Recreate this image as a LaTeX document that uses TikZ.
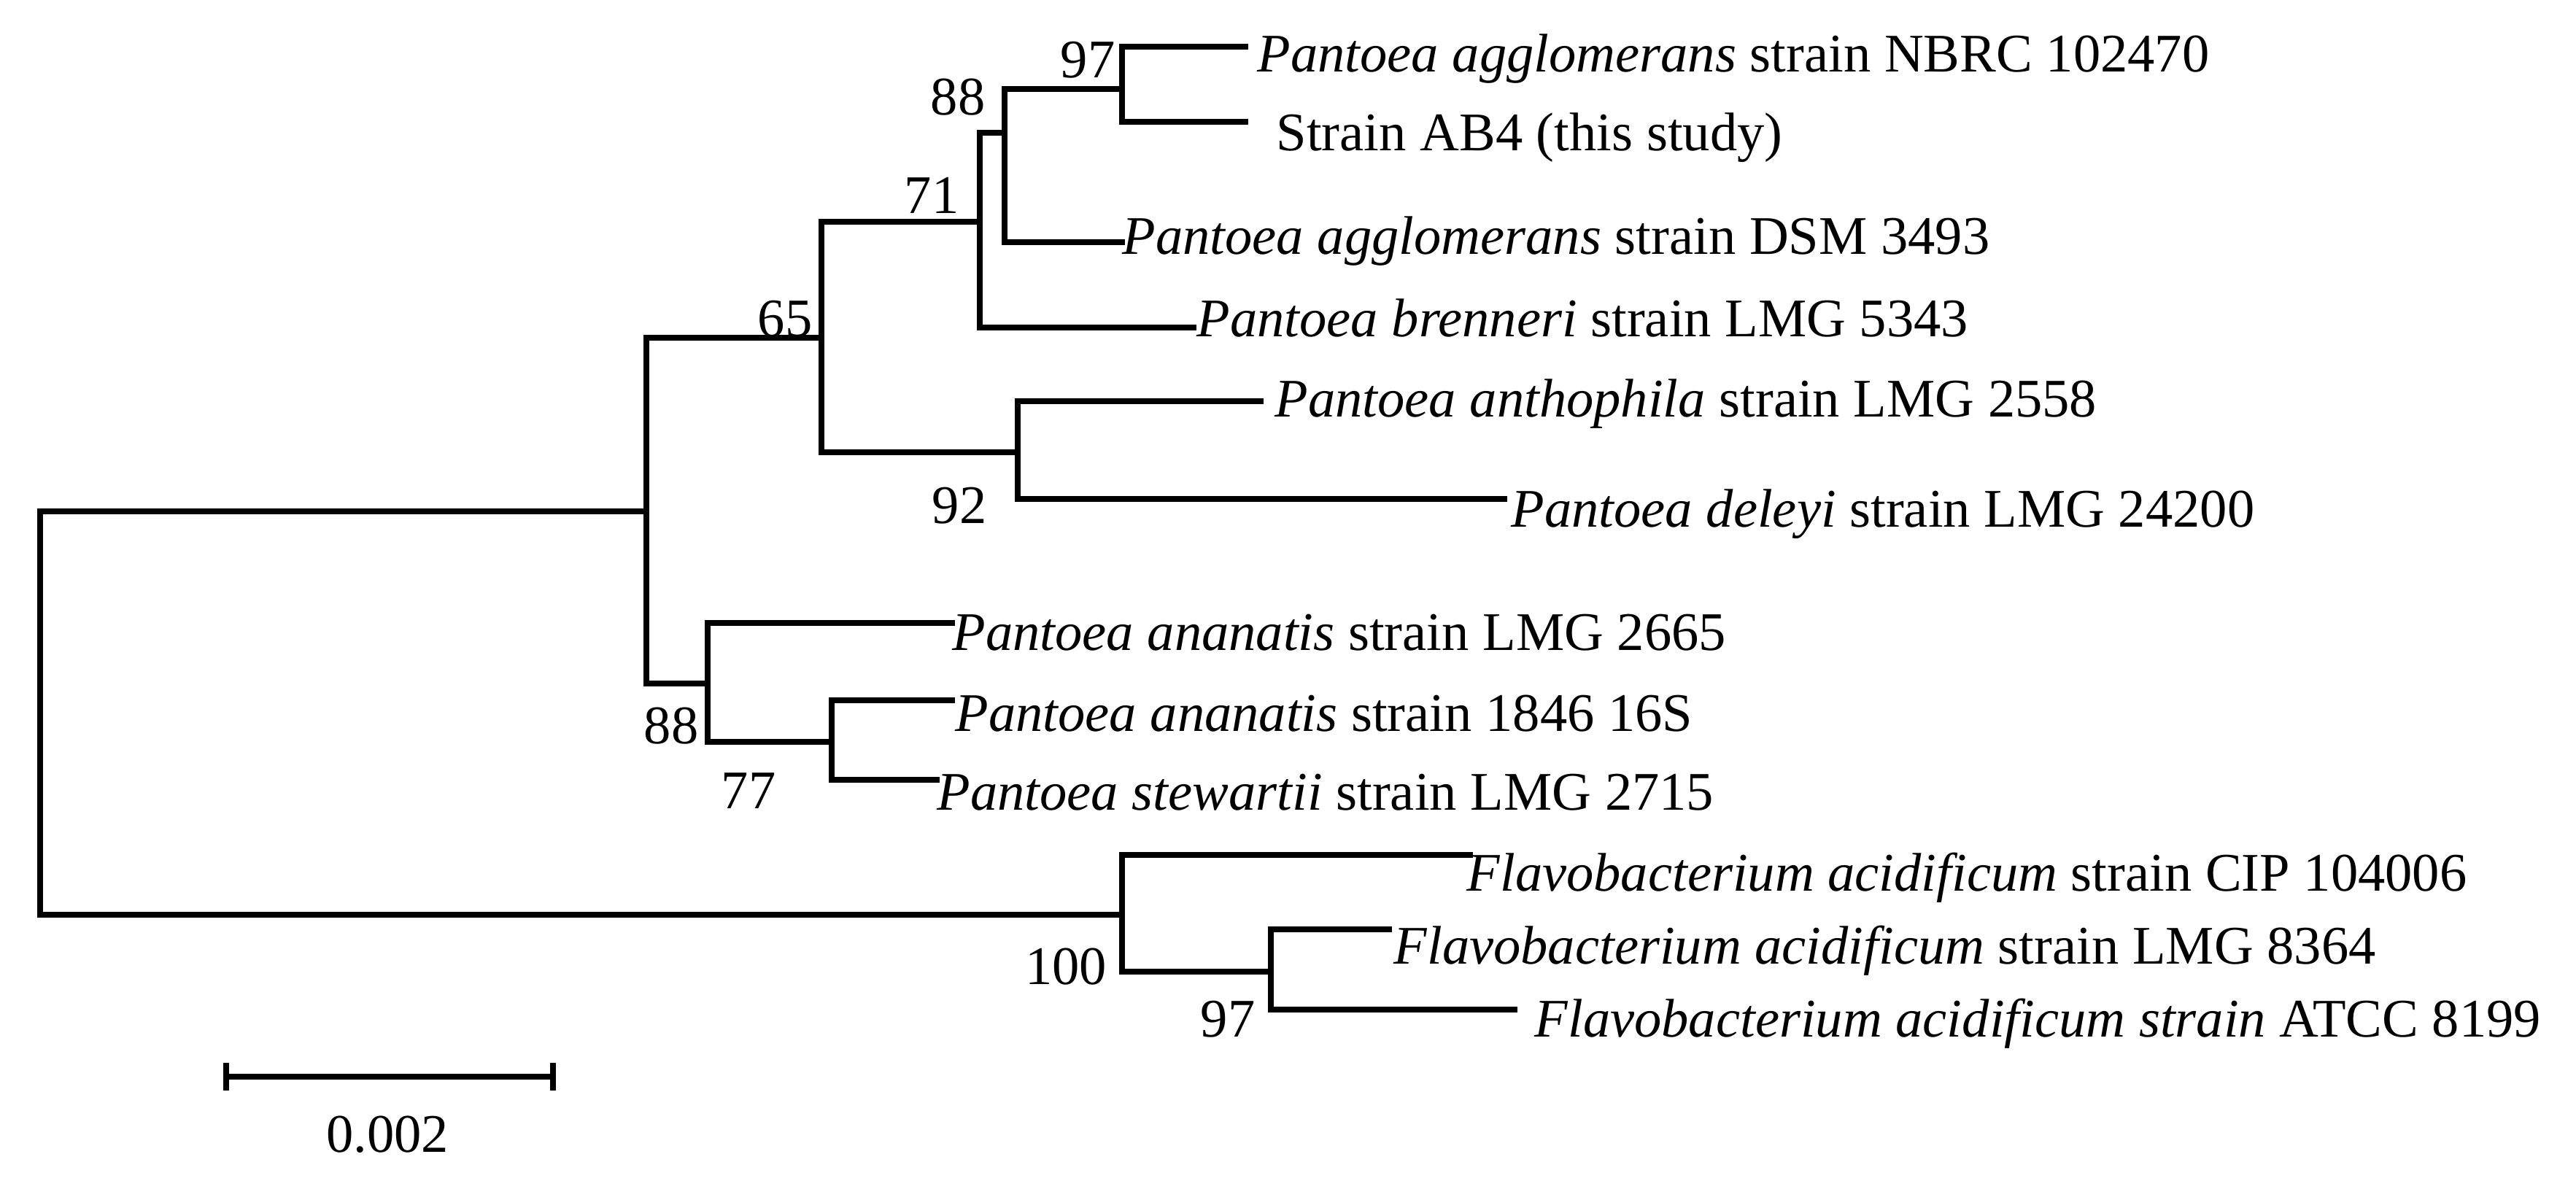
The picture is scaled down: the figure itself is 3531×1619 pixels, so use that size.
\documentclass[tikz,border=0pt]{standalone}
\usepackage{fontspec}
\setmainfont{Liberation Serif}
\begin{document}
\begin{tikzpicture}[x=0.01cm,y=-0.01cm,
  branch/.style={line width=2.4pt,line cap=rect},
  leaf/.style={anchor=base west,inner sep=0pt,font=\fontsize{21.2pt}{25pt}\selectfont},
  boot/.style={anchor=base,inner sep=0pt,font=\fontsize{21.2pt}{25pt}\selectfont}]
\useasboundingbox[fill=white] (0,0) rectangle (3531,1619);
% internal nodes
\coordinate (R) at (55,977);
\coordinate (A) at (886,701);
\coordinate (B) at (1126,463);
\coordinate (C) at (1343,304);
\coordinate (D) at (1377,182);
\coordinate (E) at (1538,122);
\coordinate (F) at (1395,620);
\coordinate (G) at (970,937);
\coordinate (H) at (1140,1017);
\coordinate (I) at (1538,1254);
\coordinate (J) at (1742,1332);
% leaf ends
\coordinate (lnbrc) at (1707,64);
\coordinate (lab4) at (1707,167);
\coordinate (ldsm) at (1538,332);
\coordinate (lbren) at (1636,449);
\coordinate (lanth) at (1728,550);
\coordinate (ldel) at (2062,684);
\coordinate (lana1) at (1305,854);
\coordinate (lana2) at (1305,960);
\coordinate (lste) at (1284,1069);
\coordinate (lcip) at (2015,1172);
\coordinate (l8364) at (1904,1274);
\coordinate (latcc) at (2076,1384);
% branches
\draw[branch] (R) |- (A);
\draw[branch] (R) |- (I);
\draw[branch] (A) |- (B);
\draw[branch] (A) |- (G);
\draw[branch] (B) |- (C);
\draw[branch] (B) |- (F);
\draw[branch] (C) |- (D);
\draw[branch] (C) |- (lbren);
\draw[branch] (D) |- (E);
\draw[branch] (D) |- (ldsm);
\draw[branch] (E) |- (lnbrc);
\draw[branch] (E) |- (lab4);
\draw[branch] (F) |- (lanth);
\draw[branch] (F) |- (ldel);
\draw[branch] (G) |- (lana1);
\draw[branch] (G) |- (H);
\draw[branch] (H) |- (lana2);
\draw[branch] (H) |- (lste);
\draw[branch] (I) |- (lcip);
\draw[branch] (I) |- (J);
\draw[branch] (J) |- (l8364);
\draw[branch] (J) |- (latcc);
% leaf labels
\node[leaf] (tnbrc) at (1723,99) {\textit{Pantoea agglomerans} strain NBRC 102470};
\node[leaf] (tab4) at (1749,207) {Strain AB4 (this study)};
\node[leaf] (tdsm) at (1538,349) {\textit{Pantoea agglomerans} strain DSM 3493};
\node[leaf] (tbren) at (1640,462) {\textit{Pantoea brenneri} strain LMG 5343};
\node[leaf] (tanth) at (1747,571) {\textit{Pantoea anthophila} strain LMG 2558};
\node[leaf] (tdel) at (2071,722) {\textit{Pantoea deleyi} strain LMG 24200};
\node[leaf] (tana1) at (1305,891) {\textit{Pantoea ananatis} strain LMG 2665};
\node[leaf] (tana2) at (1309,1002) {\textit{Pantoea ananatis} strain 1846 16S};
\node[leaf] (tste) at (1284,1110) {\textit{Pantoea stewartii} strain LMG 2715};
\node[leaf] (tcip) at (2010,1221) {\textit{Flavobacterium acidificum} strain CIP 104006};
\node[leaf] (t8364) at (1910,1321) {\textit{Flavobacterium acidificum} strain LMG 8364};
\node[leaf] (tatcc) at (2103,1421) {\textit{Flavobacterium acidificum strain} ATCC 8199};
% bootstrap values
\node[boot] (bE) at (1491,107) {97};
\node[boot] (bD) at (1313,158) {88};
\node[boot] (bC) at (1277,293) {71};
\node[boot] (bB) at (1076,462) {65};
\node[boot] (bF) at (1315,717) {92};
\node[boot] (bG) at (920,1019) {88};
\node[boot] (bH) at (1026,1108) {77};
\node[boot] (bI) at (1461,1349) {100};
\node[boot] (bJ) at (1683,1421) {97};
% scale bar
\coordinate (s1) at (310,1476);
\coordinate (s2) at (758,1476);
\draw[branch] (s1) -- (s2);
\draw[branch] ([yshift=0.15cm]s1) -- ([yshift=-0.15cm]s1);
\draw[branch] ([yshift=0.15cm]s2) -- ([yshift=-0.15cm]s2);
\node[boot] (sbl) at (531,1579) {0.002};
\end{tikzpicture}
\end{document}
